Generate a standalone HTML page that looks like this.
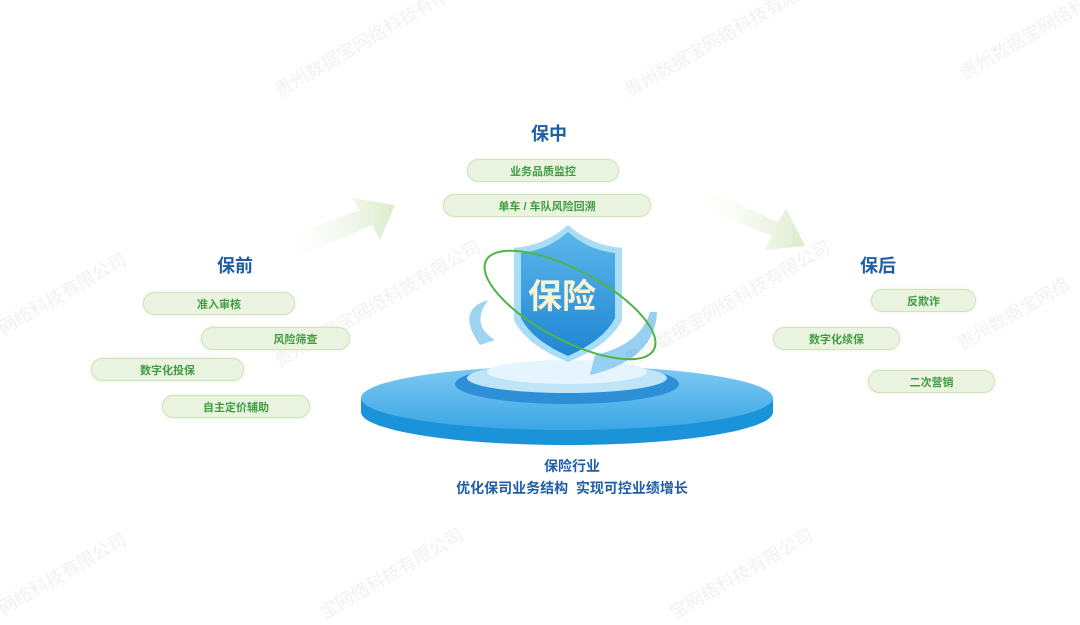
<!DOCTYPE html><html><head><meta charset="utf-8"><style>
body{margin:0;width:1080px;height:607px;background:#fff;position:relative;overflow:hidden;font-family:"Liberation Sans","Noto Sans CJK SC",sans-serif}
.p{position:absolute;height:23px;border:1.5px solid #cfe3bd;background:#eaf3e0;border-radius:13px;color:#3f9d3f;font-size:11px;font-weight:bold;display:flex;align-items:center;justify-content:center;box-sizing:border-box;box-shadow:0 0 3px #dfeed3}
.h{position:absolute;color:#1e5ea6;font-size:18px;font-weight:bold}
.t{position:absolute;color:#1e5ea6;font-size:14px;font-weight:bold;text-align:center;width:400px;left:372px}
.w{position:absolute;color:rgba(0,0,0,0.06);font-size:18px;transform:rotate(-30deg);white-space:nowrap}
</style></head><body>
<svg width="1080" height="607" style="position:absolute;left:0;top:0">
<defs>
<linearGradient id="ar" x1="0" x2="1"><stop offset="0" stop-color="#f4f9ee" stop-opacity="0"/><stop offset="1" stop-color="#dcebcb"/></linearGradient>
<linearGradient id="sh" x1="0" y1="0" x2="0" y2="1"><stop offset="0" stop-color="#5cb6ea"/><stop offset="1" stop-color="#1e86d4"/></linearGradient>
<linearGradient id="pl" x1="0" y1="0" x2="0" y2="1"><stop offset="0" stop-color="#7fcaf2"/><stop offset="1" stop-color="#3aa6e6"/></linearGradient>
</defs>
<path d="M290 235 L360 210 L352 198 L395 205 L380 240 L372 225 L300 255Z" fill="url(#ar)"/>
<path d="M705 188 L778 222 L786 208 L805 246 L765 250 L772 236 L702 208Z" fill="url(#ar)"/>
<ellipse cx="567" cy="412" rx="206" ry="33" fill="#1b93d8"/>
<rect x="361" y="398" width="412" height="14" fill="#1b93d8"/>
<ellipse cx="567" cy="398" rx="206" ry="32" fill="url(#pl)"/>
<ellipse cx="567" cy="384" rx="112" ry="20" fill="#2d8fd6"/>
<ellipse cx="567" cy="378" rx="100" ry="15" fill="#bfe4f8"/>
<ellipse cx="567" cy="372" rx="80" ry="12" fill="#e6f5fd"/>
<path d="M488 300 Q470 325 495 340 L480 345 Q455 310 488 300Z" fill="#9fd3f2"/>
<path d="M657 312 Q655 360 590 375 L595 355 Q640 345 650 312Z" fill="#8ccbef" opacity="0.9"/>
<path d="M568 225 Q590 245 622 248 L622 320 Q610 345 568 362 Q526 345 514 320 L514 248 Q546 245 568 225Z" fill="#a9dcf5"/>
<path d="M568 232 Q588 250 615 253 L615 318 Q604 340 568 356 Q532 340 521 318 L521 253 Q548 250 568 232Z" fill="url(#sh)"/>
<text x="562" y="308" font-size="34" font-weight="bold" fill="#f6f3d4" text-anchor="middle" font-family="Noto Sans CJK SC,sans-serif">保险</text>
<ellipse cx="570" cy="305" rx="95" ry="35" fill="none" stroke="#4fb548" stroke-width="2" transform="rotate(28 570 305)"/>
</svg>
<div class="w" style="left:260px;top:20px">贵州数据宝网络科技有限公司</div>
<div class="w" style="left:610px;top:20px">贵州数据宝网络科技有限公司</div>
<div class="w" style="left:950px;top:20px">贵州数据宝网络科技</div>
<div class="w" style="left:-10px;top:280px">网络科技有限公司</div>
<div class="w" style="left:260px;top:290px">贵州数据宝网络科技有限公司</div>
<div class="w" style="left:610px;top:290px">贵州数据宝网络科技有限公司</div>
<div class="w" style="left:950px;top:300px">贵州数据宝网络</div>
<div class="w" style="left:-10px;top:560px">网络科技有限公司</div>
<div class="w" style="left:310px;top:560px">宝网络科技有限公司</div>
<div class="w" style="left:660px;top:560px">宝网络科技有限公司</div>
<div class="h" style="left:217px;top:252px">保前</div>
<div class="h" style="left:531px;top:120px">保中</div>
<div class="h" style="left:860px;top:252px">保后</div>
<div class="p" style="left:143px;top:292px;width:152px">准入审核</div>
<div class="p" style="left:201px;top:327px;width:149px;padding-left:40px">风险筛查</div>
<div class="p" style="left:91px;top:358px;width:153px">数字化投保</div>
<div class="p" style="left:162px;top:395px;width:148px">自主定价辅助</div>
<div class="p" style="left:467px;top:159px;width:152px">业务品质监控</div>
<div class="p" style="left:443px;top:194px;width:208px">单车 / 车队风险回溯</div>
<div class="p" style="left:871px;top:289px;width:105px">反欺诈</div>
<div class="p" style="left:773px;top:327px;width:127px">数字化续保</div>
<div class="p" style="left:868px;top:370px;width:127px">二次营销</div>
<div class="t" style="top:456px">保险行业</div>
<div class="t" style="top:478px">优化保司业务结构&nbsp; 实现可控业绩增长</div>
</body></html>
